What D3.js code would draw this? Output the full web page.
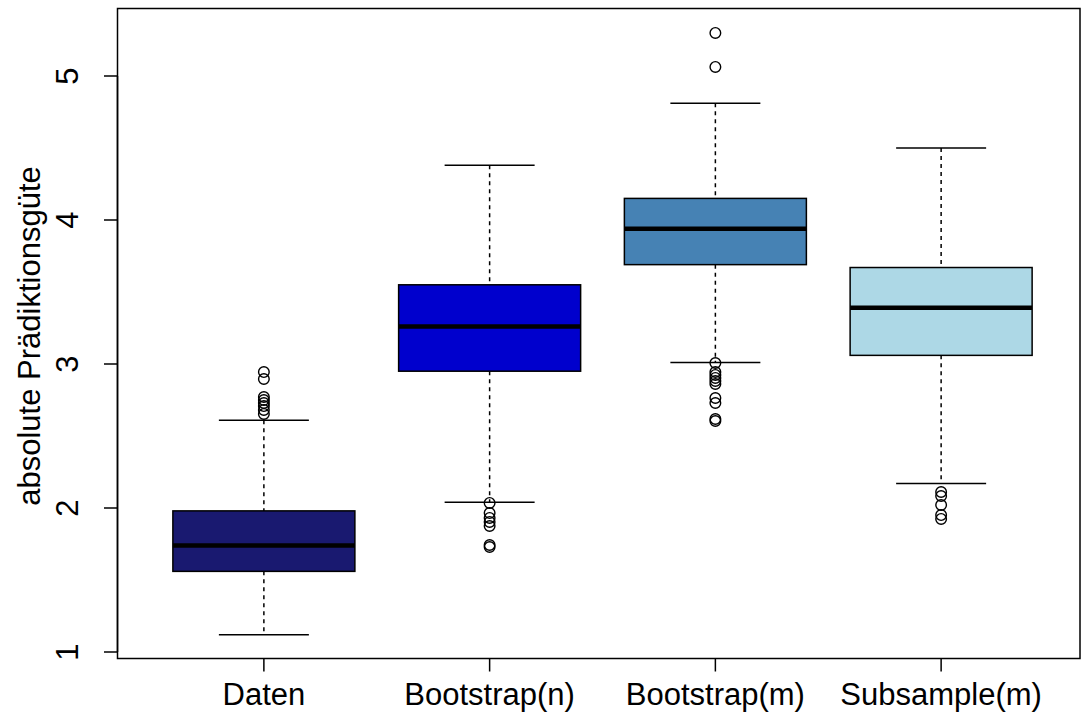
<!DOCTYPE html>
<html>
<head>
<meta charset="utf-8">
<script src="https://cdn.jsdelivr.net/npm/d3@7"></script>
<style>
  html, body { margin: 0; padding: 0; background: #fff; }
  svg { display: block; font-family: "Liberation Sans", Arial, sans-serif; }
</style>
</head>
<body>
<svg id="chart" width="1081" height="715"></svg>
<script>
// Box-plot summaries per method
const categories = ["Daten", "Bootstrap(n)", "Bootstrap(m)", "Subsample(m)"];
const whiskerLow  = [1.12, 2.04, 3.01, 2.17];
const lowerQuart  = [1.56, 2.95, 3.69, 3.06];
const medians     = [1.74, 3.26, 3.94, 3.39];
const upperQuart  = [1.98, 3.55, 4.15, 3.67];
const whiskerHigh = [2.61, 4.38, 4.81, 4.50];
const outliers = [
  [2.944, 2.896, 2.771, 2.75, 2.729, 2.708, 2.681, 2.653],
  [2.035, 1.965, 1.931, 1.903, 1.875, 1.743, 1.729],
  [5.299, 5.063, 3.007, 2.944, 2.924, 2.903, 2.882, 2.861, 2.764, 2.729, 2.618, 2.604],
  [2.111, 2.083, 2.021, 1.951, 1.924]
];
const fills = ["#191970", "#0000CD", "#4682B4", "#ADD8E6"];
const yTicks = [1, 2, 3, 4, 5];
const yLabel = "absolute Prädiktionsgüte";

const svg = d3.select("#chart");
const plot = { left: 117.5, right: 1080, top: 8.5, bottom: 658.5 };
const fontSize = 31;

const x = d3.scalePoint().domain(categories).range([151, 1054]).padding(0.5);
const y = d3.scaleLinear().domain([1, 5]).range([652, 76]);
const boxHalf = 91, capHalf = 45;

// frame
svg.append("rect")
  .attr("x", plot.left).attr("y", plot.top)
  .attr("width", plot.right - plot.left).attr("height", plot.bottom - plot.top)
  .attr("fill", "none").attr("stroke", "#000").attr("stroke-width", 1.5);

const groups = svg.selectAll("g.box")
  .data(categories.map((c, i) => ({
    c, lo: whiskerLow[i], q1: lowerQuart[i], med: medians[i], q3: upperQuart[i],
    hi: whiskerHigh[i], out: outliers[i], fill: fills[i]
  })))
  .join("g").attr("class", "box");

// whiskers (dashed)
groups.append("line")
  .attr("x1", d => x(d.c)).attr("x2", d => x(d.c))
  .attr("y1", d => y(d.hi)).attr("y2", d => y(d.q3))
  .attr("stroke", "#000").attr("stroke-width", 1.5).attr("stroke-dasharray", "4,4");
groups.append("line")
  .attr("x1", d => x(d.c)).attr("x2", d => x(d.c))
  .attr("y1", d => y(d.q1)).attr("y2", d => y(d.lo))
  .attr("stroke", "#000").attr("stroke-width", 1.5).attr("stroke-dasharray", "4,4");
// whisker caps
groups.selectAll("line.cap")
  .data(d => [{ c: d.c, v: d.lo }, { c: d.c, v: d.hi }])
  .join("line").attr("class", "cap")
  .attr("x1", d => x(d.c) - capHalf).attr("x2", d => x(d.c) + capHalf)
  .attr("y1", d => y(d.v)).attr("y2", d => y(d.v))
  .attr("stroke", "#000").attr("stroke-width", 1.5);
// boxes
groups.append("rect")
  .attr("x", d => x(d.c) - boxHalf).attr("width", 2 * boxHalf)
  .attr("y", d => y(d.q3)).attr("height", d => y(d.q1) - y(d.q3))
  .attr("fill", d => d.fill).attr("stroke", "#000").attr("stroke-width", 1.5);
// medians
groups.append("line")
  .attr("x1", d => x(d.c) - boxHalf).attr("x2", d => x(d.c) + boxHalf)
  .attr("y1", d => y(d.med)).attr("y2", d => y(d.med))
  .attr("stroke", "#000").attr("stroke-width", 4.5);
// outliers
groups.selectAll("circle")
  .data(d => d.out.map(v => ({ c: d.c, v })))
  .join("circle")
  .attr("cx", d => x(d.c)).attr("cy", d => y(d.v)).attr("r", 5.3)
  .attr("fill", "none").attr("stroke", "#000").attr("stroke-width", 1.4);

// y axis
const yAxis = svg.append("g");
yAxis.append("line")
  .attr("x1", 117.5).attr("x2", 117.5).attr("y1", y(1)).attr("y2", y(5))
  .attr("stroke", "#000").attr("stroke-width", 1.5);
yAxis.selectAll("line.tick").data(yTicks).join("line").attr("class", "tick")
  .attr("x1", 104).attr("x2", 117.5)
  .attr("y1", d => y(d)).attr("y2", d => y(d))
  .attr("stroke", "#000").attr("stroke-width", 1.5);
yAxis.selectAll("text").data(yTicks).join("text")
  .attr("transform", d => `translate(78,${y(d)}) rotate(-90)`)
  .attr("text-anchor", "middle")
  .attr("font-size", fontSize)
  .text(d => d);

// x axis ticks and labels
const xAxis = svg.append("g");
xAxis.selectAll("line").data(categories).join("line")
  .attr("x1", d => x(d)).attr("x2", d => x(d))
  .attr("y1", plot.bottom).attr("y2", plot.bottom + 13)
  .attr("stroke", "#000").attr("stroke-width", 1.5);
xAxis.selectAll("text").data(categories).join("text")
  .attr("x", d => x(d)).attr("y", 705)
  .attr("text-anchor", "middle")
  .attr("font-size", fontSize)
  .text(d => d);

// y axis title
svg.append("text")
  .attr("transform", `translate(40,${y(3) - 28}) rotate(-90)`)
  .attr("text-anchor", "middle")
  .attr("font-size", fontSize)
  .text(yLabel);
</script>
</body>
</html>
